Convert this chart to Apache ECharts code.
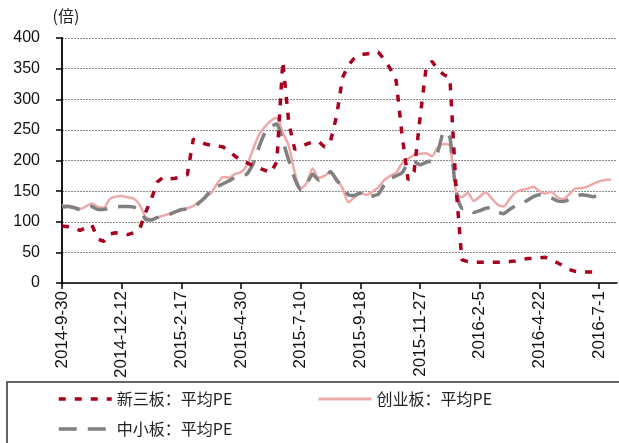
<!DOCTYPE html>
<html>
<head>
<meta charset="utf-8">
<script src="https://cdn.jsdelivr.net/npm/echarts@6/dist/echarts.min.js"></script>
<style>
  html, body { margin: 0; padding: 0; background: #fff; }
  #main { width: 619px; height: 443px; }
</style>
</head>
<body>
<div id="main"></div>
<script>
// 周度日期（标签每10周显示一次）
var dates = [
    '2014-9-30', '2014-10-10', '2014-10-17', '2014-10-24', '2014-10-31', '2014-11-7', '2014-11-14', '2014-11-21', '2014-11-28', '2014-12-5',
    '2014-12-12', '2014-12-19', '2014-12-26', '2015-1-2', '2015-1-9', '2015-1-16', '2015-1-23', '2015-1-30', '2015-2-6', '2015-2-13',
    '2015-2-17', '2015-2-27', '2015-3-6', '2015-3-13', '2015-3-20', '2015-3-27', '2015-4-3', '2015-4-10', '2015-4-17', '2015-4-24',
    '2015-4-30', '2015-5-8', '2015-5-15', '2015-5-22', '2015-5-29', '2015-6-5', '2015-6-12', '2015-6-19', '2015-6-26', '2015-7-3',
    '2015-7-10', '2015-7-17', '2015-7-24', '2015-7-31', '2015-8-7', '2015-8-14', '2015-8-21', '2015-8-28', '2015-9-4', '2015-9-11',
    '2015-9-18', '2015-9-25', '2015-9-30', '2015-10-9', '2015-10-16', '2015-10-23', '2015-10-30', '2015-11-6', '2015-11-13', '2015-11-20',
    '2015-11-27', '2015-12-4', '2015-12-11', '2015-12-18', '2015-12-25', '2015-12-31', '2016-1-8', '2016-1-15', '2016-1-22', '2016-1-29',
    '2016-2-5', '2016-2-19', '2016-2-26', '2016-3-4', '2016-3-11', '2016-3-18', '2016-3-25', '2016-4-1', '2016-4-8', '2016-4-15',
    '2016-4-22', '2016-4-29', '2016-5-6', '2016-5-13', '2016-5-20', '2016-5-27', '2016-6-3', '2016-6-8', '2016-6-17', '2016-6-24',
    '2016-7-1', '2016-7-8', '2016-7-15', '2016-7-22'
];

// 新三板：平均PE
var xsbPE = [
    93, 92, 90, 86, 90, 95, 72, 68, 80, 82,
    81, 79, 82, 88, 115, 138, 165, 173, 170, 171,
    174, 177, 235, 232, 227, 225, 224, 222, 215, 207,
    200, 196, 192, 188, 184, 180, 198, 362, 262, 218,
    222, 227, 230, 231, 222, 232, 272, 335, 356, 367,
    373, 374, 375, 377, 365, 350, 330, 240, 168, 182,
    270, 350, 362, 348, 340, 335, 160, 38, 35, 34,
    34, 34, 34, 34, 34, 35, 36, 38, 40, 40,
    41, 42, 38, 33, 28, 22, 19, 18, 18, 18,
    18, null, null, null
];

// 创业板：平均PE
var cybPE = [
    127, 126, 124, 121, 125, 130, 124, 123, 137, 141,
    142, 140, 138, 128, 108, 104, 107, 110, 113, 116,
    119, 122, 126, 133, 140, 147, 162, 173, 172, 178,
    181, 192, 218, 242, 255, 265, 270, 245, 224, 180,
    154, 163, 187, 172, 175, 182, 170, 155, 132, 140,
    147, 144, 149, 156, 168, 175, 180, 196, 203, 209,
    211, 212, 207, 222, 227, 224, 150, 140, 147, 134,
    141, 148, 138, 128, 125, 137, 148, 152, 154, 157,
    150, 146, 149, 140, 137, 145, 154, 155, 157, 162,
    166, 168, 169, null
];

// 中小板：平均PE
var zxbPE = [
    124, 125, 123, 120, 122, 125, 120, 120, 122, 124,
    125, 125, 124, 119, 104, 103, 107, 110, 112, 116,
    120, 121, 124, 131, 140, 152, 157, 162, 167, 172,
    175, 178, 194, 222, 245, 255, 260, 232, 200, 170,
    152, 162, 178, 168, 172, 182, 168, 157, 144, 143,
    147, 139, 142, 145, 160, 170, 175, 180, 196, 198,
    193, 197, 200, 215, 248, 238, 150, 122, 123, 115,
    118, 122, 123, 116, 113, 120, 126, 129, 135, 141,
    144, 141, 139, 134, 133, 136, 140, 144, 143, 141,
    143, 149, null, null
];

var myChart = echarts.init(document.getElementById('main'));

var legendText = {
    fontFamily: 'Noto Sans CJK SC',
    fontSize: 16,
    color: '#222'
};

// 图例只画线，不画圆点
function oneLegend(name, left, top, width) {
    return {
        left: left,
        top: top,
        itemWidth: 53,
        itemHeight: 14,
        itemGap: 0,
        textStyle: legendText,
        itemStyle: { opacity: 0 },
        lineStyle: { width: width },
        data: [name]
    };
}

myChart.setOption({
    animation: false,
    grid: {
        left: 62,
        right: 2,
        top: 38,
        bottom: 160
    },
    legend: [
        oneLegend('新三板：平均PE', 52, 386, 3.5),
        oneLegend('创业板：平均PE', 312, 386, 3),
        oneLegend('中小板：平均PE', 52, 416, 3.5)
    ],
    graphic: [{
        type: 'rect',
        shape: { x: 7, y: 382, width: 700, height: 120 },
        style: { fill: 'none', stroke: '#333', lineWidth: 1.5 },
        silent: true
    }],
    xAxis: {
        type: 'category',
        boundaryGap: false,
        data: dates,
        axisLine: { lineStyle: { color: '#000', width: 1.5 } },
        axisTick: {
            interval: 9,
            length: 6,
            lineStyle: { color: '#000', width: 1.5 }
        },
        axisLabel: {
            interval: 9,
            rotate: 90,
            margin: 8,
            color: '#111',
            fontFamily: 'Liberation Sans',
            fontSize: 17
        }
    },
    yAxis: {
        type: 'value',
        min: 0,
        max: 400,
        interval: 50,
        name: '(倍)',
        nameGap: 14,
        nameTextStyle: {
            fontFamily: 'Noto Sans CJK SC',
            fontSize: 16,
            color: '#222',
            align: 'center',
            padding: [0, 0, 0, 8]
        },
        axisLine: { show: true, lineStyle: { color: '#000', width: 1.8 } },
        axisTick: { show: true, length: 6, lineStyle: { color: '#000', width: 1.5 } },
        axisLabel: {
            margin: 22,
            color: '#111',
            fontFamily: 'Liberation Sans',
            fontSize: 16
        },
        splitLine: {
            lineStyle: { color: '#888', type: [2, 1], width: 1 }
        }
    },
    series: [
        {
            name: '创业板：平均PE',
            type: 'line',
            symbol: 'none',
            smooth: 0.25,
            data: cybPE,
            lineStyle: { color: '#EDA9A9', width: 2.5 },
            itemStyle: { color: '#EDA9A9' }
        },
        {
            name: '中小板：平均PE',
            type: 'line',
            symbol: 'none',
            smooth: 0.15,
            data: zxbPE,
            lineStyle: { color: '#808080', width: 3.5, type: [18, 11] },
            itemStyle: { color: '#808080' }
        },
        {
            name: '新三板：平均PE',
            type: 'line',
            symbol: 'none',
            data: xsbPE,
            lineStyle: { color: '#A8001E', width: 3.5, type: [7, 9] },
            itemStyle: { color: '#A8001E' }
        }
    ]
});
</script>
</body>
</html>
